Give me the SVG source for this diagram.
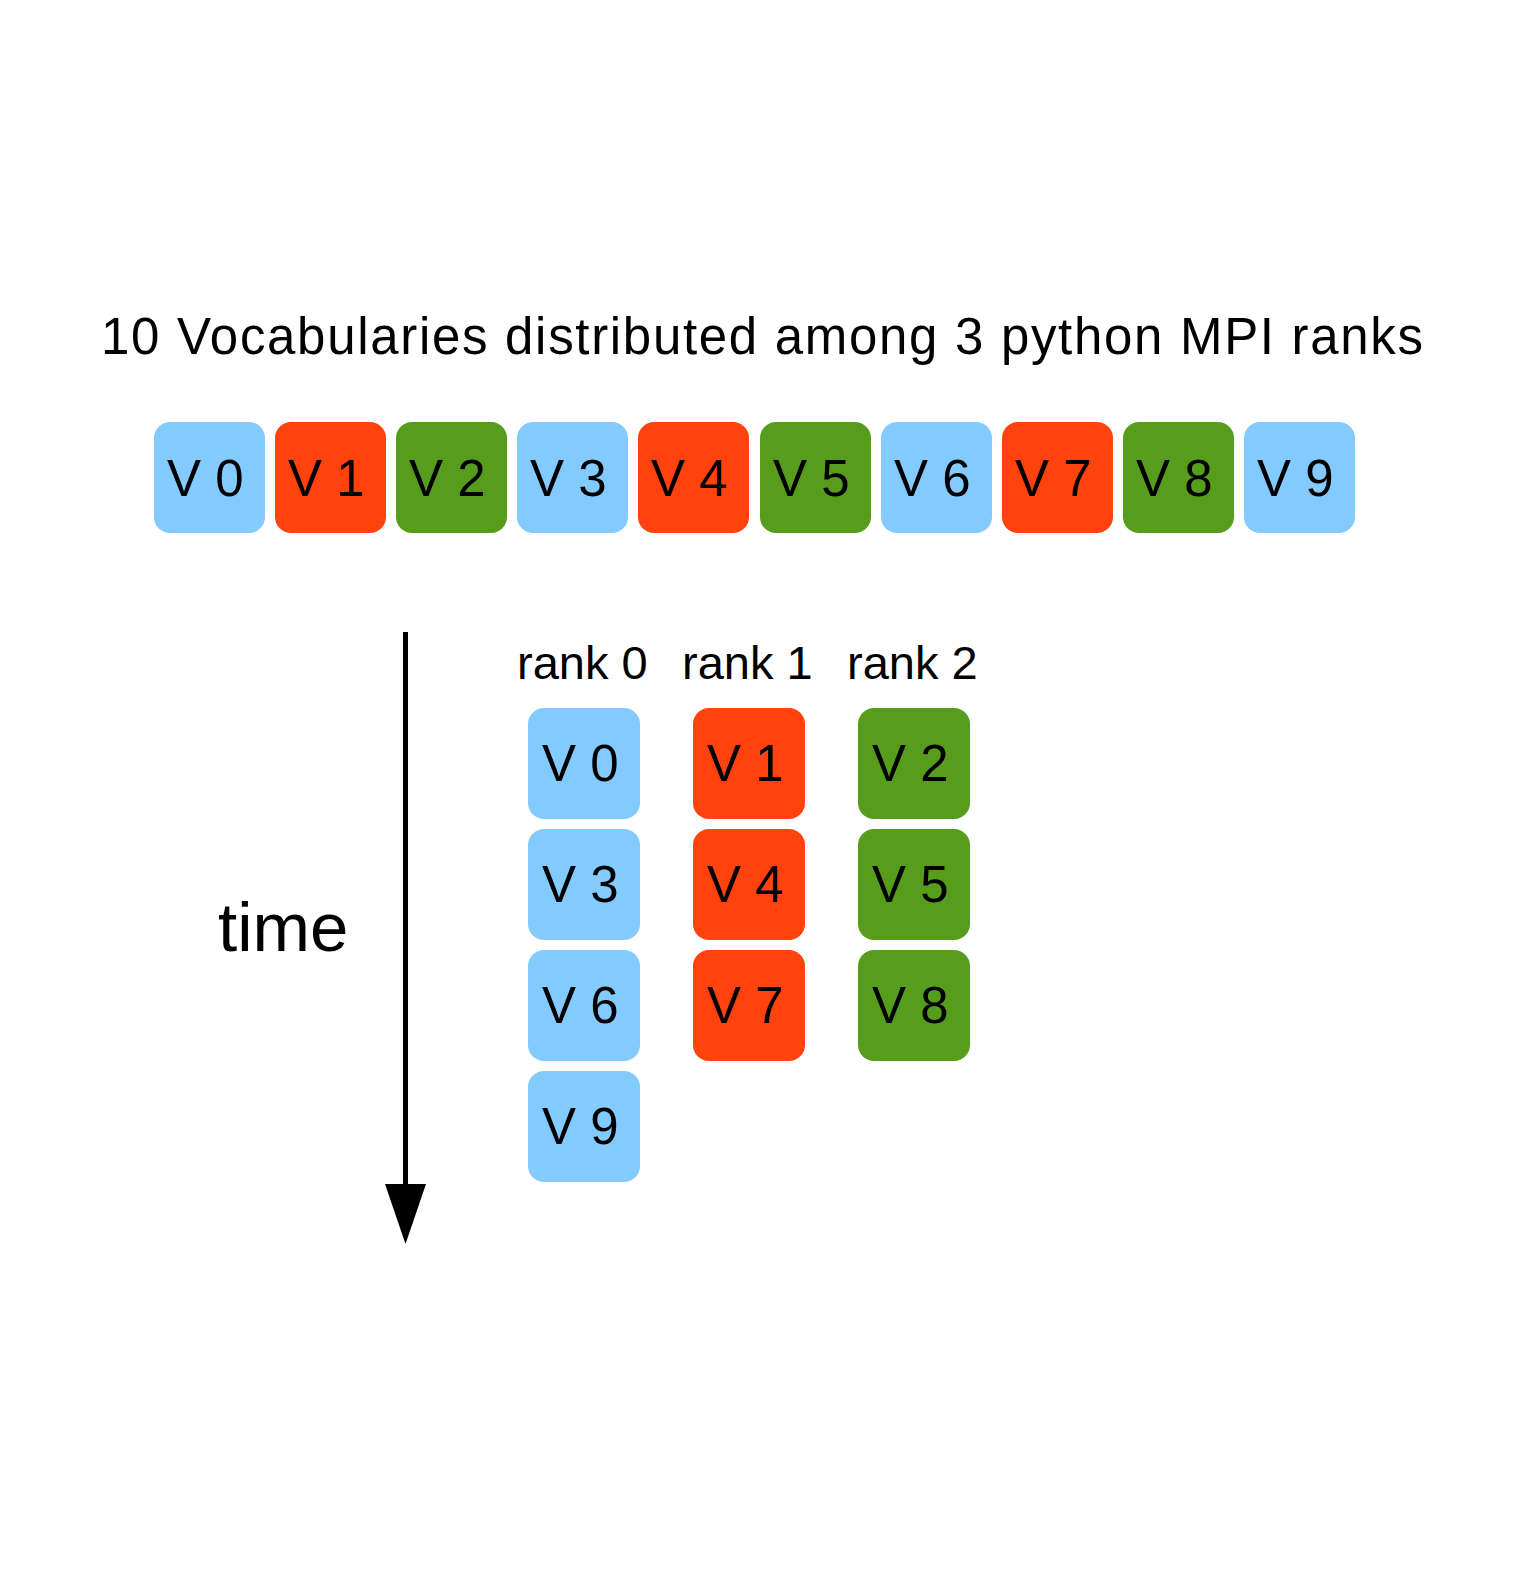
<svg xmlns="http://www.w3.org/2000/svg" width="1523" height="1593" viewBox="0 0 1523 1593">
<style>
text { font-family: "Liberation Sans", Arial, sans-serif; fill: #000; }
.v { font-size: 51px; }
.rk { font-size: 47px; }
.b { fill: #83CAFF; }
.r { fill: #FF420E; }
.g { fill: #579D1C; }
</style>
<rect width="1523" height="1593" fill="#fff"/>
<text id="title" x="101" y="354" style="font-size:51px" textLength="1322" lengthAdjust="spacing">10 Vocabularies distributed among 3 python MPI ranks</text>
<g id="top-row">
<g id="t0"><rect class="b" x="154" y="422" width="111" height="111" rx="16"/><text class="v" x="167" y="496">V 0</text></g>
<g id="t1"><rect class="r" x="275" y="422" width="111" height="111" rx="16"/><text class="v" x="288" y="496">V 1</text></g>
<g id="t2"><rect class="g" x="396" y="422" width="111" height="111" rx="16"/><text class="v" x="409" y="496">V 2</text></g>
<g id="t3"><rect class="b" x="517" y="422" width="111" height="111" rx="16"/><text class="v" x="530" y="496">V 3</text></g>
<g id="t4"><rect class="r" x="638" y="422" width="111" height="111" rx="16"/><text class="v" x="651" y="496">V 4</text></g>
<g id="t5"><rect class="g" x="760" y="422" width="111" height="111" rx="16"/><text class="v" x="773" y="496">V 5</text></g>
<g id="t6"><rect class="b" x="881" y="422" width="111" height="111" rx="16"/><text class="v" x="894" y="496">V 6</text></g>
<g id="t7"><rect class="r" x="1002" y="422" width="111" height="111" rx="16"/><text class="v" x="1015" y="496">V 7</text></g>
<g id="t8"><rect class="g" x="1123" y="422" width="111" height="111" rx="16"/><text class="v" x="1136" y="496">V 8</text></g>
<g id="t9"><rect class="b" x="1244" y="422" width="111" height="111" rx="16"/><text class="v" x="1257" y="496">V 9</text></g>
</g>
<g id="labels">
<text class="rk" x="517" y="679">rank 0</text>
<text class="rk" x="682" y="679">rank 1</text>
<text class="rk" x="847" y="679">rank 2</text>
<text x="218" y="951" style="font-size:69px">time</text>
</g>
<g id="rank0">
<g id="r0a"><rect class="b" x="528" y="708" width="112" height="111" rx="16"/><text class="v" x="542" y="781">V 0</text></g>
<g id="r0b"><rect class="b" x="528" y="829" width="112" height="111" rx="16"/><text class="v" x="542" y="902">V 3</text></g>
<g id="r0c"><rect class="b" x="528" y="950" width="112" height="111" rx="16"/><text class="v" x="542" y="1023">V 6</text></g>
<g id="r0d"><rect class="b" x="528" y="1071" width="112" height="111" rx="16"/><text class="v" x="542" y="1144">V 9</text></g>
</g>
<g id="rank1">
<g id="r1a"><rect class="r" x="693" y="708" width="112" height="111" rx="16"/><text class="v" x="707" y="781">V 1</text></g>
<g id="r1b"><rect class="r" x="693" y="829" width="112" height="111" rx="16"/><text class="v" x="707" y="902">V 4</text></g>
<g id="r1c"><rect class="r" x="693" y="950" width="112" height="111" rx="16"/><text class="v" x="707" y="1023">V 7</text></g>
</g>
<g id="rank2">
<g id="r2a"><rect class="g" x="858" y="708" width="112" height="111" rx="16"/><text class="v" x="872" y="781">V 2</text></g>
<g id="r2b"><rect class="g" x="858" y="829" width="112" height="111" rx="16"/><text class="v" x="872" y="902">V 5</text></g>
<g id="r2c"><rect class="g" x="858" y="950" width="112" height="111" rx="16"/><text class="v" x="872" y="1023">V 8</text></g>
</g>
<g id="connectors">
<line x1="405.5" y1="632" x2="405.5" y2="1190" stroke="#000" stroke-width="5"/>
<polygon points="385,1184 426,1184 405.5,1244" fill="#000"/>
</g>
</svg>
